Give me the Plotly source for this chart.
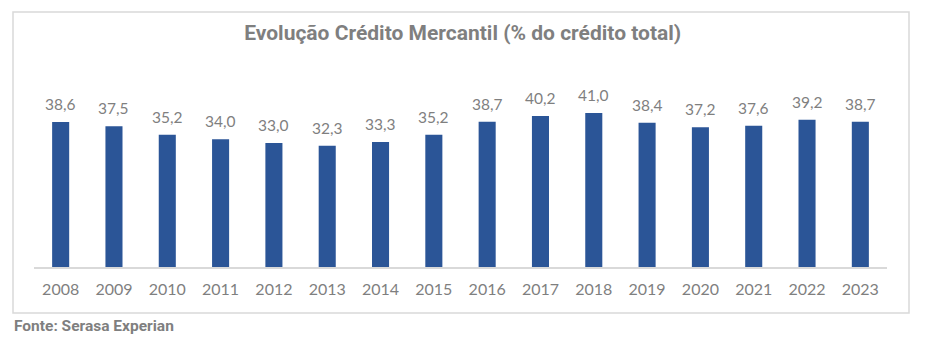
import plotly.graph_objects as go

years = ["2008", "2009", "2010", "2011", "2012", "2013", "2014", "2015",
         "2016", "2017", "2018", "2019", "2020", "2021", "2022", "2023"]
share = [38.6, 37.5, 35.2, 34.0, 33.0, 32.3, 33.3, 35.2,
         38.7, 40.2, 41.0, 38.4, 37.2, 37.6, 39.2, 38.7]

W, H = 931, 343
ML, MR, MT, MB = 34, 44, 98, 76
PW, PH = W - ML - MR, H - MT - MB

def px_x(p):
    return (p - ML) / PW

def px_y(p):
    return (H - MB - p) / PH

BAR = "#2B5597"
GRAY = "#7f7f7f"

fig = go.Figure(go.Bar(
    x=years, y=share, marker_color=BAR, marker_line_width=0,
    hoverinfo="x+y", cliponaxis=False,
))

# value labels above each bar, in Brazilian decimal format
# (category axis: annotations are placed by category index)
for i, v in enumerate(share):
    fig.add_annotation(
        x=i, y=v, xref="x", yref="y", text=f"{v:.1f}".replace(".", ","),
        showarrow=False, yanchor="middle", yshift=18,
        font=dict(family="Lato", size=15.5, color=GRAY),
    )

# source note
fig.add_annotation(
    x=px_x(12), y=px_y(326), xref="paper", yref="paper",
    xanchor="left", yanchor="middle", showarrow=False,
    text="<b>Fonte: Serasa Experian</b>",
    font=dict(family="Roboto", size=15.5, color=GRAY),
)

# chart frame
fig.add_shape(
    type="rect", xref="paper", yref="paper",
    x0=px_x(13), x1=px_x(909), y0=px_y(313), y1=px_y(12),
    line=dict(color="#d9d9d9", width=1.5), fillcolor="rgba(0,0,0,0)", layer="below",
)

fig.update_layout(
    width=W, height=H,
    margin=dict(l=ML, r=MR, t=MT, b=MB, pad=0),
    paper_bgcolor="white", plot_bgcolor="white",
    bargap=0.68, showlegend=False,
    title=dict(
        text="<b>Evolução Crédito Mercantil (% do crédito total)</b>",
        x=0.497, xanchor="center", y=1 - 33 / H, yanchor="middle",
        font=dict(family="Roboto", size=21, color=GRAY),
    ),
    xaxis=dict(
        type="category", range=[-0.5, len(years) - 0.5],
        showgrid=False, zeroline=False,
        showline=True, linecolor="#d9d9d9", linewidth=1.5,
        ticks="", tickfont=dict(family="Lato", size=16, color=GRAY),
        ticklabelstandoff=7,
    ),
    yaxis=dict(range=[0, 45], visible=False, fixedrange=True),
)

fig.write_html("out.html")
